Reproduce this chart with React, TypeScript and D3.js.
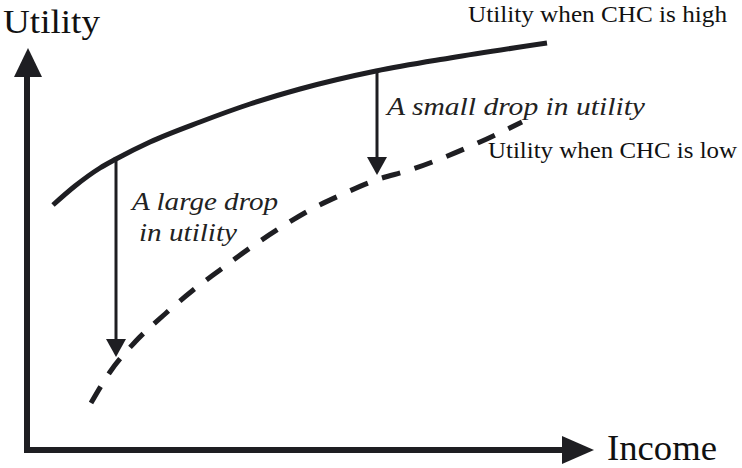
import * as d3 from "d3";

// values (income / utility in drawing units)
const highIncome = [26, 48, 73, 89, 123, 173, 223, 273, 349, 423, 520];
const highUtility = [245, 264, 282, 291, 308, 328, 346, 361, 379, 392, 407];

const lowIncome = [64, 83, 108, 138, 165, 193, 223, 253, 283, 316, 349, 383, 418, 453, 495];
const lowUtility = [47, 78, 108, 136, 159, 180, 202, 222, 240, 256, 270, 280, 293, 308, 328];

// the two drop arrows
const dropIncome = [89, 350];
const dropFrom = [291, 379];
const dropTo = [93, 275];

const W = 742;
const H = 468;
const ink = "#1e1e22";

export default function App() {
  const x = d3.scaleLinear().domain([0, 570]).range([27, 597]);
  const y = d3.scaleLinear().domain([0, 405]).range([450, 45]);

  const line = d3
    .line<[number, number]>()
    .x((d) => x(d[0]))
    .y((d) => y(d[1]))
    .curve(d3.curveMonotoneX);

  const high = highIncome.map((v, i) => [v, highUtility[i]] as [number, number]);
  const low = lowIncome.map((v, i) => [v, lowUtility[i]] as [number, number]);

  const x0 = x(0);
  const y0 = y(0);
  const head = 18;

  return (
    <svg
      width={W}
      height={H}
      style={{ position: "absolute", left: 0, top: 0, background: "#fff" }}
      fontFamily="'Liberation Serif', 'Times New Roman', serif"
    >
      {/* axes */}
      <line x1={x0} y1={y0 + 3} x2={x0} y2={76} stroke={ink} strokeWidth={6} />
      <path d={`M${x0 + 1},48 L${x0 + 15},77 L${x0 - 13},77 Z`} fill={ink} />
      <line x1={x0 - 3} y1={y0} x2={563} y2={y0} stroke={ink} strokeWidth={6} />
      <path d={`M594,${y0} L562,${y0 - 14} L562,${y0 + 14} Z`} fill={ink} />

      {/* curves */}
      <path d={line(high) ?? ""} fill="none" stroke={ink} strokeWidth={5} />
      <path
        d={line(low) ?? ""}
        fill="none"
        stroke={ink}
        strokeWidth={5}
        strokeDasharray="19 15"
      />

      {/* drop arrows */}
      {dropIncome.map((inc, i) => {
        const ax = x(inc);
        const top = y(dropFrom[i]);
        const tip = y(dropTo[i]);
        return (
          <g key={i}>
            <line x1={ax} y1={top} x2={ax} y2={tip - head + 2} stroke={ink} strokeWidth={3} />
            <path d={`M${ax},${tip} L${ax - 10},${tip - head} L${ax + 10},${tip - head} Z`} fill={ink} />
          </g>
        );
      })}

      {/* labels */}
      <text x={3} y={33} fontSize={34} fill="#111" textLength={97} lengthAdjust="spacingAndGlyphs">
        Utility
      </text>
      <text x={607} y={460} fontSize={35} fill="#111" textLength={110} lengthAdjust="spacingAndGlyphs">
        Income
      </text>
      <text x={468} y={22} fontSize={24} fill="#111" textLength={259} lengthAdjust="spacingAndGlyphs">
        Utility when CHC is high
      </text>
      <text x={488} y={158} fontSize={24} fill="#111" textLength={249} lengthAdjust="spacingAndGlyphs">
        Utility when CHC is low
      </text>
      <g fontStyle="italic" fill="#222" fontSize={26}>
        <text x={387} y={115} textLength={258} lengthAdjust="spacingAndGlyphs">
          A small drop in utility
        </text>
        <text x={132} y={210} textLength={146} lengthAdjust="spacingAndGlyphs">
          A large drop
        </text>
        <text x={139} y={241} textLength={98} lengthAdjust="spacingAndGlyphs">
          in utility
        </text>
      </g>
    </svg>
  );
}
